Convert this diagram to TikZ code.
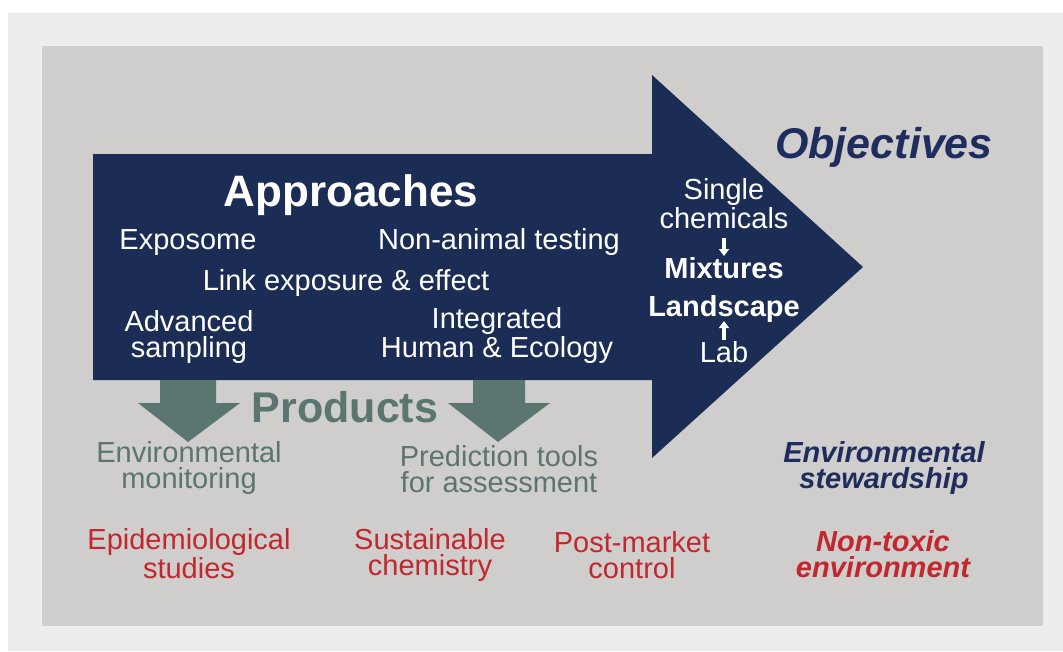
\documentclass[tikz,border=0pt]{standalone}
\usepackage{fontspec}
\setmainfont{Liberation Sans}
\usetikzlibrary{arrows.meta}
\definecolor{outerbg}{HTML}{EDEDED}
\definecolor{panel}{HTML}{D1CECE}
\definecolor{innerpanel}{HTML}{CFCECD}
\definecolor{navy}{HTML}{1C2D55}
\definecolor{objnavy}{HTML}{1F2D5E}
\definecolor{prodgreen}{HTML}{5B7571}
\definecolor{redtxt}{HTML}{C1272D}
\tikzset{
  txt/.style={inner sep=0pt, align=center, anchor=base, font=\fontsize{29}{26}\selectfont},
  wtxt/.style={txt, text=white},
  wbold/.style={txt, text=white, font=\fontsize{29}{26}\selectfont\bfseries},
  gtxt/.style={txt, text=prodgreen},
  rtxt/.style={txt, text=redtxt},
  head/.style={inner sep=0pt, anchor=base, font=\fontsize{44}{44}\selectfont\bfseries},
  smallarrow/.style={white, line width=3.4pt, -{Triangle[width=10pt,length=7pt]}},
  blockarrow/.style={fill=prodgreen, draw=none}
}
\begin{document}
\begin{tikzpicture}[x=1pt,y=-1pt]
\useasboundingbox (0,0) rectangle (1063,651);
\fill[white] (0,0) rectangle (1063,651);
\fill[outerbg] (8,13) rectangle (1063,651);
\fill[panel] (42,46) rectangle (1043,626);
\fill[innerpanel] (86,71) rectangle (1000,578);
% big arrow
\fill[navy] (93,154) -- (652,154) -- (652,75) -- (863,267) -- (652,458) -- (652,380) -- (93,380) -- cycle;
% product arrows
\fill[blockarrow] (160,380) -- (216,380) -- (216,403) -- (240,403) -- (188,442) -- (138,403) -- (160,403) -- cycle;
\fill[blockarrow] (473,380) -- (525,380) -- (525,403) -- (550,403) -- (498,442) -- (448,403) -- (473,403) -- cycle;
% approaches (multi-line nodes: base = baseline of last line)
\node[head, text=white] (appr) at (351,206) {Approaches};
\node[wtxt] (expo) at (188,249) {Exposome};
\node[wtxt] (nonanimal) at (499,249) {Non-animal testing};
\node[wtxt] (link) at (346,290) {Link exposure \& effect};
\node[wtxt] (adv) at (189,357) {Advanced\\sampling};
\node[wtxt] (integ) at (497,357) {Integrated\\Human \& Ecology};
% objectives in arrow head
\node[wtxt] (single) at (724,228) {Single\\chemicals};
\node[wbold] (mix) at (724,278) {Mixtures};
\node[wbold] (land) at (724,316) {Landscape};
\node[wtxt] (lab) at (724,362) {Lab};
\coordinate (d1) at (724,238);
\coordinate (d2) at (724,256);
\coordinate (u1) at (724,340);
\coordinate (u2) at (724,321);
\draw[smallarrow] (d1) -- (d2);
\draw[smallarrow] (u1) -- (u2);
% objectives title
\node[head, text=objnavy, font=\fontsize{43}{43}\selectfont\bfseries\itshape] (obj) at (884,158) {Objectives};
% products
\node[head, text=prodgreen, font=\fontsize{43}{43}\selectfont\bfseries] (prod) at (345,422) {Products};
\node[gtxt] (envmon) at (189,488) {Environmental\\monitoring};
\node[gtxt] (pred) at (499,492) {Prediction tools\\for assessment};
% stewardship
\node[txt, text=objnavy, font=\fontsize{29}{26}\selectfont\bfseries\itshape] (stew) at (884,488) {Environmental\\stewardship};
% red outcomes
\node[rtxt] (epi) at (189,578) {Epidemiological\\studies};
\node[rtxt] (sust) at (430,575) {Sustainable\\chemistry};
\node[rtxt] (post) at (632,578) {Post-market\\control};
\node[txt, text=redtxt, font=\fontsize{29}{26}\selectfont\bfseries\itshape] (nontox) at (883,577) {Non-toxic\\environment};
\end{tikzpicture}
\end{document}
